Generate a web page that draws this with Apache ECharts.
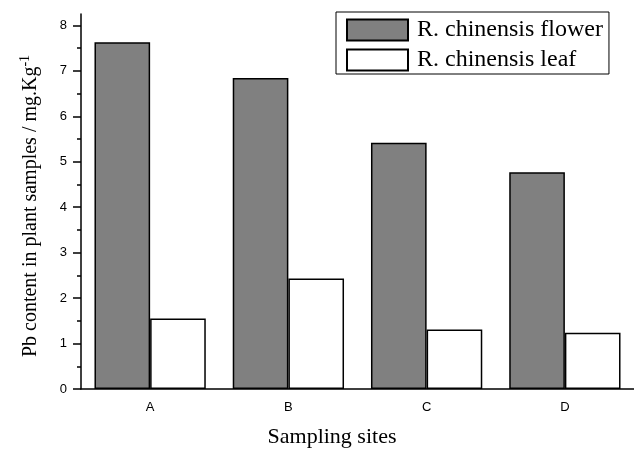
<!DOCTYPE html>
<html>
<head>
<meta charset="utf-8">
<script src="https://cdn.jsdelivr.net/npm/echarts@6/dist/echarts.min.js"></script>
<style>
  html, body { margin: 0; padding: 0; background: #fff; }
  #chart { width: 634px; height: 451px; }
</style>
</head>
<body>
<div id="chart"></div>
<script>
var sites = ['A', 'B', 'C', 'D'];
var flower = [7.63, 6.84, 5.42, 4.77];
var leaf = [1.55, 2.43, 1.31, 1.24];
var majorTicks = [0, 1, 2, 3, 4, 5, 6, 7, 8];
var minorTicks = [0.5, 1.5, 2.5, 3.5, 4.5, 5.5, 6.5, 7.5];

var serif = '"Liberation Serif", "Times New Roman", serif';
var sans = '"Liberation Sans", Arial, sans-serif';

var chart = echarts.init(document.getElementById('chart'));

var option = {
    animation: false,
    grid: { left: 81, right: -5, top: 14, bottom: 62 },
    legend: {
        orient: 'vertical',
        left: 336,
        top: 12,
        padding: [6, 6, 2, 10],
        itemWidth: 61,
        itemHeight: 21,
        itemGap: 6,
        borderColor: '#000',
        borderWidth: 1,
        icon: 'rect',
        textStyle: {
            fontFamily: serif,
            fontSize: 24,
            color: '#000',
            lineHeight: 21,
            padding: [0, 0, 0, 4]
        },
        data: ['R. chinensis flower', 'R. chinensis leaf']
    },
    xAxis: [{
        type: 'category',
        data: sites,
        axisLine: { lineStyle: { color: '#000', width: 1.5 } },
        axisTick: { alignWithLabel: true, length: 8, lineStyle: { color: '#000', width: 1.5 } },
        axisLabel: { color: '#000', fontFamily: sans, fontSize: 13, margin: 12 },
        splitLine: { show: false }
    }, {
        // short ticks on the category boundaries
        type: 'category',
        data: sites,
        position: 'bottom',
        axisLine: { show: false },
        axisTick: { length: 4, lineStyle: { color: '#000', width: 1.5 } },
        axisLabel: { show: false },
        splitLine: { show: false }
    }],
    yAxis: [{
        type: 'value',
        min: 0,
        max: 8.25,
        axisLine: { show: true, lineStyle: { color: '#000', width: 1.5 } },
        axisTick: { show: true, length: 8, customValues: majorTicks, lineStyle: { color: '#000', width: 1.5 } },
        axisLabel: { color: '#000', fontFamily: sans, fontSize: 13, margin: 14, customValues: majorTicks },
        splitLine: { show: false }
    }, {
        type: 'value',
        min: 0,
        max: 8.25,
        position: 'left',
        axisLine: { show: false },
        axisTick: { show: true, length: 4, customValues: minorTicks, lineStyle: { color: '#000', width: 1.5 } },
        axisLabel: { show: false },
        splitLine: { show: false }
    }],
    series: [{
        name: 'R. chinensis flower',
        type: 'bar',
        data: flower,
        barGap: '0%',
        barCategoryGap: '19.5%',
        itemStyle: { color: '#808080', borderColor: '#000', borderWidth: 1.5 }
    }, {
        name: 'R. chinensis leaf',
        type: 'bar',
        data: leaf,
        barGap: '0%',
        barCategoryGap: '19.5%',
        itemStyle: { color: '#fff', borderColor: '#000', borderWidth: 1.5 }
    }],
    graphic: [{
        type: 'text',
        x: 332,
        y: 437,
        style: {
            text: 'Sampling sites',
            font: '22px ' + serif,
            fill: '#000',
            align: 'center',
            verticalAlign: 'middle'
        }
    }, {
        type: 'text',
        x: 31,
        y: 206,
        rotation: Math.PI / 2,
        style: {
            text: 'Pb content in plant samples / mg.Kg{sup|-1}',
            fontFamily: serif,
            fontSize: 20,
            fill: '#000',
            align: 'center',
            verticalAlign: 'middle',
            rich: {
                sup: { fontFamily: serif, fontSize: 14, fill: '#000', verticalAlign: 'top', padding: [0, 0, 12, 0] }
            }
        }
    }]
};

chart.setOption(option);
</script>
</body>
</html>
